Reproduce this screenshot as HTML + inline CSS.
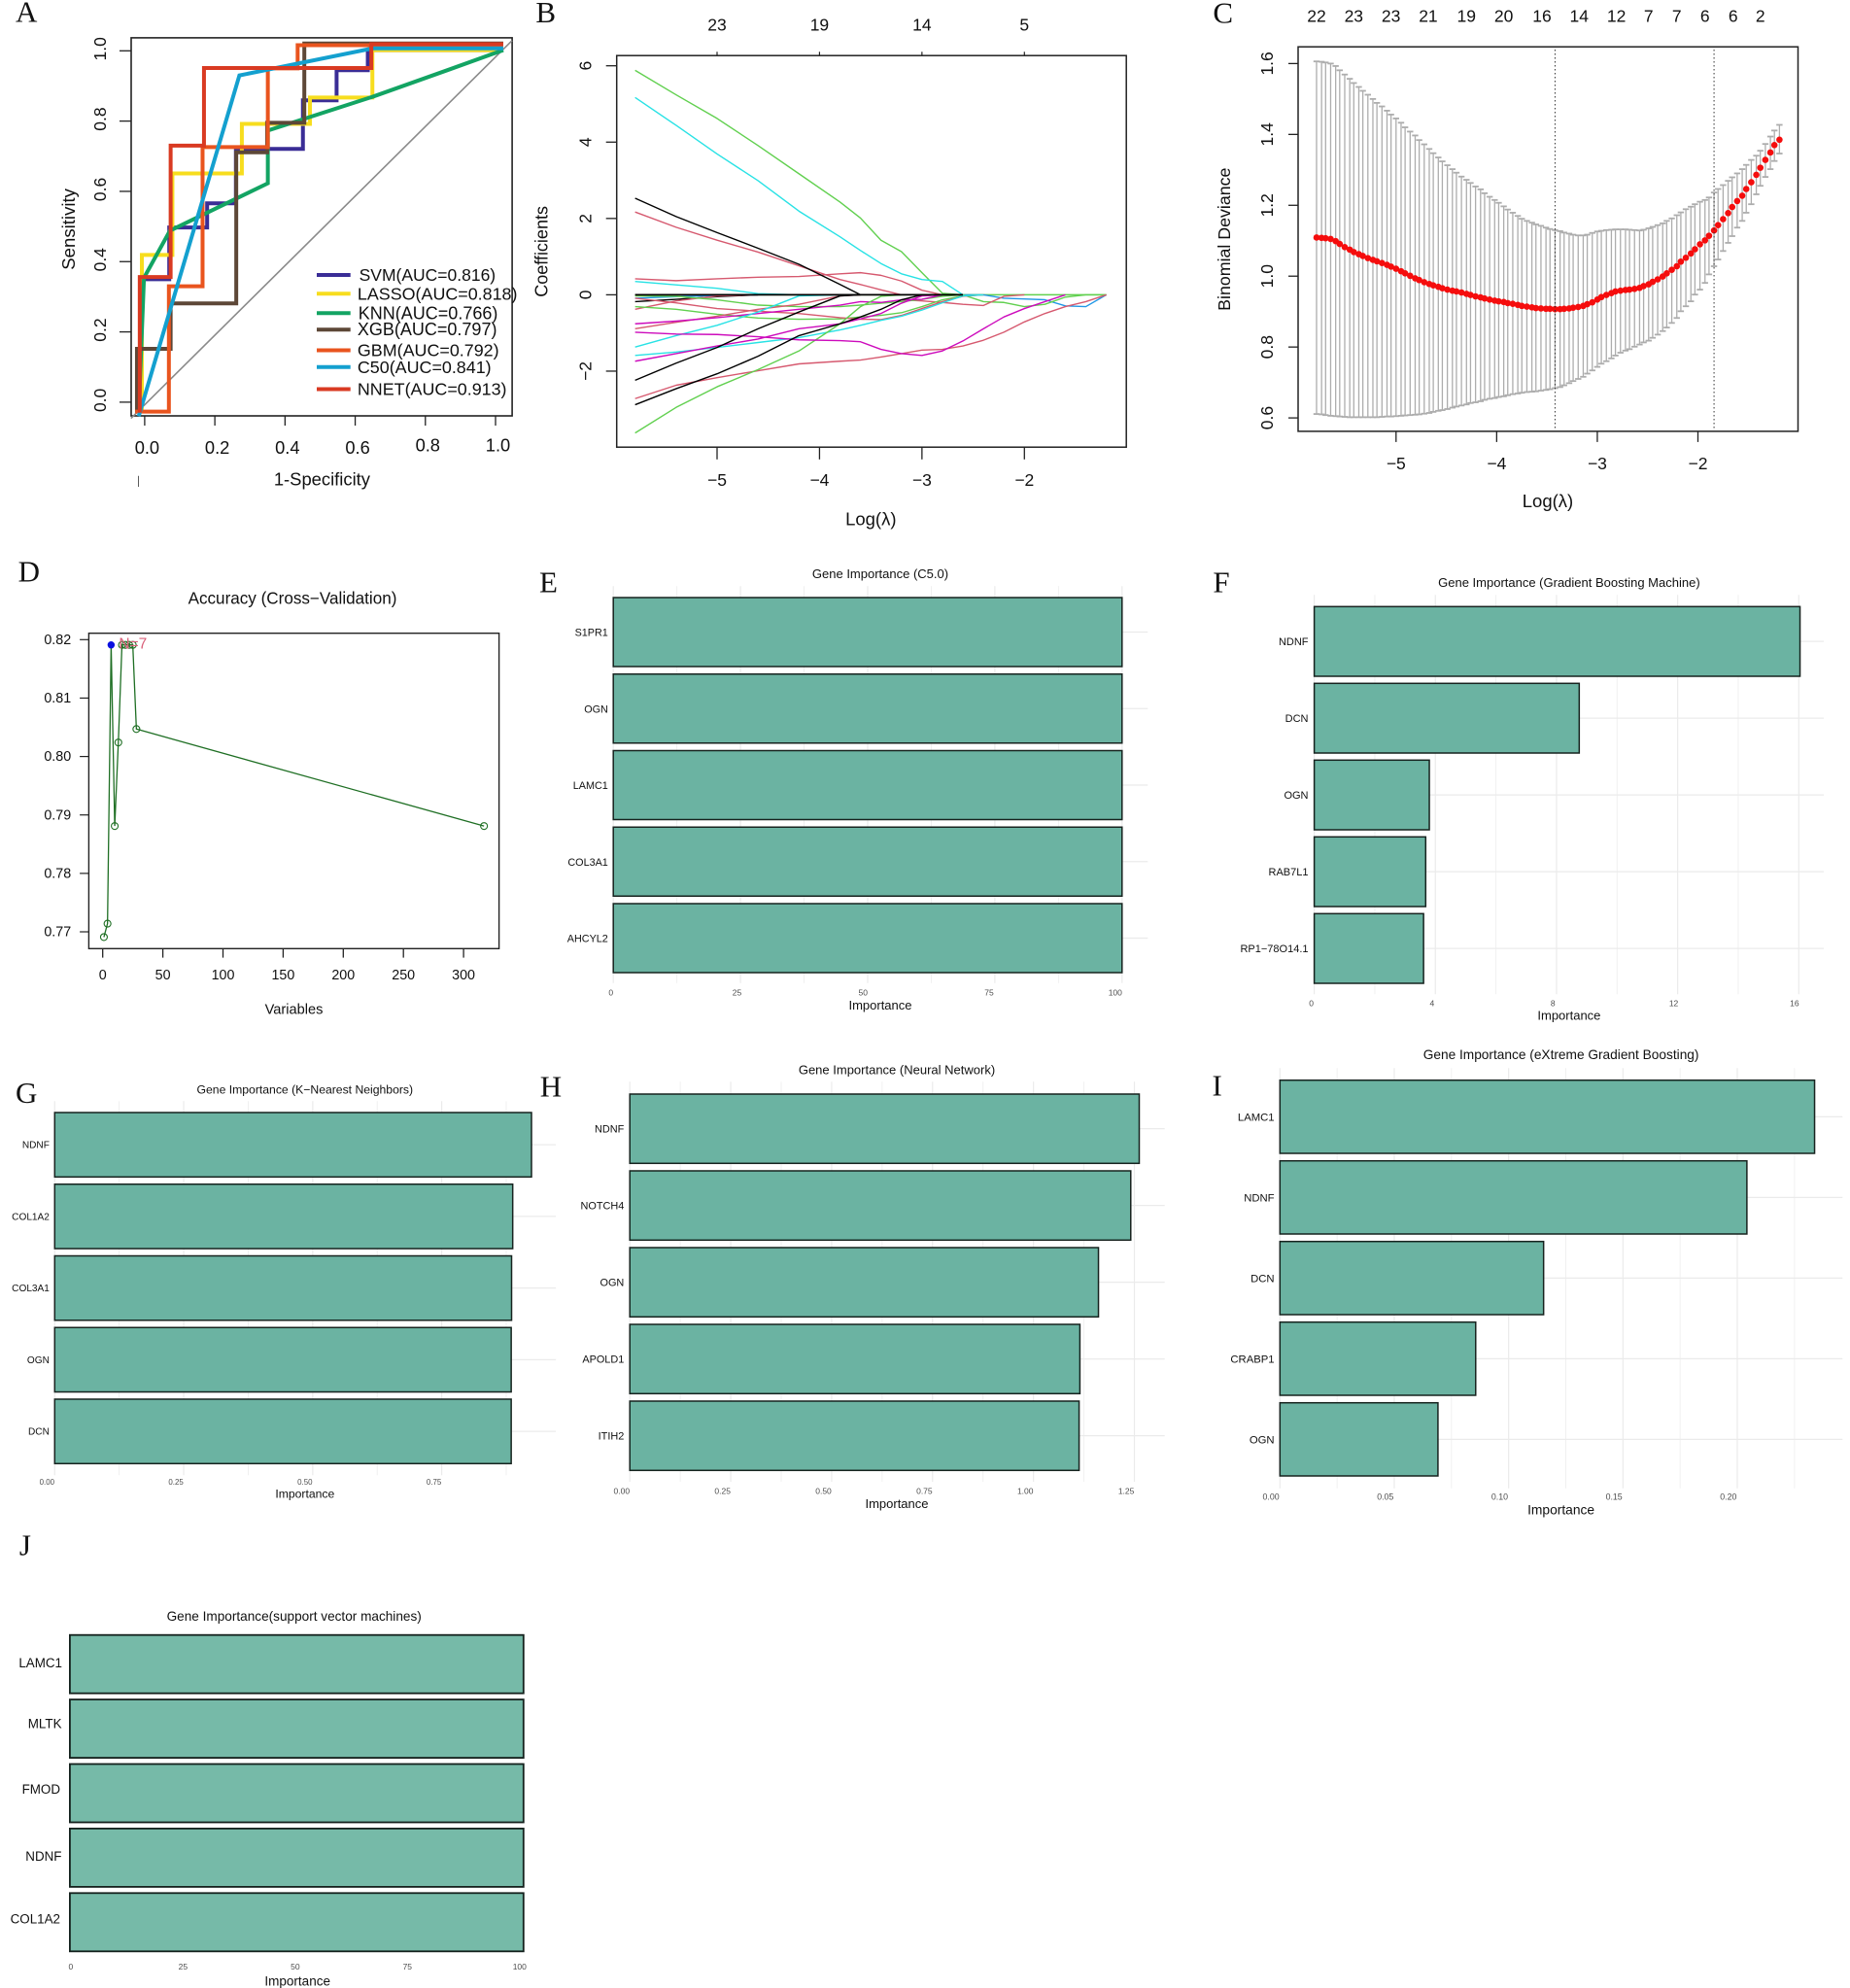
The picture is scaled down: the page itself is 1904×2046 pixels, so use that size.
<!DOCTYPE html>
<html lang="en">
<head>
<meta charset="utf-8">
<title>Gene importance multi-panel figure</title>
<style>
html,body{margin:0;padding:0;background:#fff;}
svg{display:block;font-family:"Liberation Sans",sans-serif;}
.letter{font-family:"Liberation Serif",serif;font-size:31px;fill:#111;}
.c{text-anchor:middle;dominant-baseline:central;fill:#111;}
</style>
</head>
<body>
<svg id="figure" xmlns="http://www.w3.org/2000/svg" width="1904" height="2046" viewBox="0 0 1904 2046">
<rect x="0" y="0" width="1904" height="2046" fill="#fff"/>

<text class="letter" x="16" y="22.4">A</text>
<text class="letter" x="551.4" y="22.8">B</text>
<text class="letter" x="1248.4" y="23.4">C</text>
<text class="letter" x="18.6" y="598.3">D</text>
<text class="letter" x="555" y="609.3">E</text>
<text class="letter" x="1248.4" y="609.3">F</text>
<text class="letter" x="16" y="1135">G</text>
<text class="letter" x="555.7" y="1128.5">H</text>
<text class="letter" x="1247.5" y="1127.7">I</text>
<text class="letter" x="19.9" y="1600.7">J</text>

<g id="panel-a">
  <rect x="135" y="38.9" width="392.1" height="389.1" fill="none" stroke="#222" stroke-width="1.6"/>
  <text class="c" font-size="18.6" transform="translate(70.7 235.9) rotate(-90)">Sensitivity</text>
  <text class="c" font-size="18.4" x="331.4" y="493.1">1-Specificity</text>
  <line x1="142.5" x2="142.5" y1="489.7" y2="501" stroke="#333" stroke-width="0.8"/>
</g>

<g id="panel-b">
  <rect x="634.7" y="57.2" width="524.5" height="403" fill="none" stroke="#222" stroke-width="1.5"/>
  <text class="c" font-size="18" transform="translate(557.6 258.9) rotate(-90)">Coefficients</text>
  <text class="c" font-size="18.5" x="896.3" y="534.2">Log(λ)</text>
</g>

<g id="panel-c">
  <rect x="1336" y="48.2" width="514.5" height="395.7" fill="none" stroke="#222" stroke-width="1.5"/>
  <text class="c" font-size="17.8" transform="translate(1260.1 246.2) rotate(-90)">Binomial Deviance</text>
  <text class="c" font-size="18.5" x="1593" y="515.5">Log(λ)</text>
</g>

<g id="panel-d">
  <rect x="91.4" y="651.7" width="422.2" height="324.6" fill="none" stroke="#222" stroke-width="1.4"/>
  <text class="c" font-size="17.1" x="301" y="616">Accuracy (Cross−Validation)</text>
  <text class="c" font-size="14.6" x="302.5" y="1039.5">Variables</text>
</g>

<g id="panel-e">
  <text class="c" font-size="13" x="906" y="590.7">Gene Importance (C5.0)</text>
  <text class="c" font-size="13" x="906" y="1034.3">Importance</text>
</g>
<g id="panel-f">
  <text class="c" font-size="13" x="1614.9" y="599.3">Gene Importance (Gradient Boosting Machine)</text>
  <text class="c" font-size="13" x="1614.9" y="1045">Importance</text>
</g>
<g id="panel-g">
  <text class="c" font-size="12.2" x="313.8" y="1121.7">Gene Importance (K−Nearest Neighbors)</text>
  <text class="c" font-size="12.2" x="313.8" y="1537.7">Importance</text>
</g>
<g id="panel-h">
  <text class="c" font-size="13" x="923" y="1101">Gene Importance (Neural Network)</text>
  <text class="c" font-size="13" x="923" y="1547.7">Importance</text>
</g>
<g id="panel-i">
  <text class="c" font-size="13.7" x="1606.6" y="1085.7">Gene Importance (eXtreme Gradient Boosting)</text>
  <text class="c" font-size="13.8" x="1606.6" y="1554">Importance</text>
</g>
<g id="panel-j">
  <text class="c" font-size="13.6" x="302.7" y="1663.3">Gene Importance(support vector machines)</text>
  <text class="c" font-size="13.5" x="306.2" y="2039">Importance</text>
</g>
</svg>

<script>
/* ---------- Panel A: ROC data ---------- */
const rocTicks = [0, 0.2, 0.4, 0.6, 0.8, 1];
const rocTickLabels = ['0.0', '0.2', '0.4', '0.6', '0.8', '1.0'];
const rocDiagonalFpr = [-0.039, 1.047];
const rocDiagonalTpr = [-0.046, 1.029];
const svmFpr = [-0.012,-0.012,0.07,0.07,0.178,0.178,0.26,0.26,0.451,0.451,0.547,0.547,0.636,0.636,1.022];
const svmTpr = [-0.022,0.35,0.35,0.497,0.497,0.566,0.566,0.721,0.721,0.859,0.859,0.945,0.945,1.002,1.002];
const lassoFpr = [-0.008,-0.008,0.079,0.079,0.277,0.277,0.471,0.471,0.649,0.649,1.022];
const lassoTpr = [-0.03,0.419,0.419,0.651,0.651,0.792,0.792,0.867,0.867,1.002,1.002];
const knnFpr = [-0.017,-0.002,0.072,0.351,0.351,0.649,0.863,1.022];
const knnTpr = [-0.03,0.354,0.488,0.623,0.773,0.869,0.945,1.002];
const xgbFpr = [-0.022,-0.022,0.074,0.074,0.261,0.261,0.349,0.349,0.455,0.455,1.022];
const xgbTpr = [-0.03,0.152,0.152,0.281,0.281,0.711,0.711,0.795,0.795,1.021,1.021];
const gbmFpr = [-0.027,0.069,0.069,0.165,0.165,0.351,0.351,0.436,0.436,1.022];
const gbmTpr = [-0.027,-0.027,0.33,0.33,0.726,0.726,0.95,0.95,1.016,1.016];
const c50Fpr = [-0.017,0.27,0.649,1.022];
const c50Tpr = [-0.04,0.93,1.007,1.007];
const nnetFpr = [-0.014,-0.014,0.074,0.074,0.169,0.169,0.646,0.646,1.022];
const nnetTpr = [-0.03,0.356,0.356,0.73,0.73,0.951,0.951,1.019,1.019];
const rocModels = ['SVM', 'LASSO', 'KNN', 'XGB', 'GBM', 'C50', 'NNET'];
const rocAucs = ['0.816', '0.818', '0.766', '0.797', '0.792', '0.841', '0.913'];

/* ---------- Panel B: LASSO coefficient paths ---------- */
const lassoXTicks = [-5, -4, -3, -2];
const lassoXTickLabels = ['−5', '−4', '−3', '−2'];
const lassoTopLabels = ['23', '19', '14', '5'];
const lassoYTicks = [6, 4, 2, 0, -2];
const lassoYTickLabels = ['6', '4', '2', '0', '−2'];
const lassoGrid = [-5.8,-5.4,-5,-4.6,-4.2,-3.8,-3.6,-3.4,-3.2,-3,-2.8,-2.6,-2.4,-2.2,-2,-1.8,-1.6,-1.4,-1.2];
const lassoMidGrid = [-3.2,-3,-2.8,-2.6,-2.4,-2.2,-2];
const lassoTailGrid = [-2.6,-2.4,-2.2,-2,-1.8,-1.6,-1.4,-1.2];
const coefGreenTop = [5.88,5.24,4.62,3.91,3.17,2.43,2.01,1.43,1.13,0.58,0.04,0];
const coefCyanTop = [5.17,4.44,3.69,2.99,2.19,1.52,1.16,0.82,0.55,0.4,0.35,0];
const coefBlackTop = [2.53,2.05,1.63,1.22,0.8,0.27,0];
const coefRedTop = [2.17,1.77,1.43,1.12,0.76,0.4,0.27,0.13,0];
const coefRedSmall = [0.42,0.37,0.42,0.46,0.48,0.55,0.58,0.51,0.36,0.12,0];
const coefCyanSmall = [0.35,0.26,0.17,0.03,0];
const coefBlackNearZero = [-0.18,-0.12,-0.05,0];
const coefBlueNearZero = [-0.09,-0.05,-0.02,0];
const coefRedNearZero = [-0.38,-0.16,-0.03,0];
const coefGreenMid = [-0.31,-0.38,-0.51,-0.61,-0.64,-0.63,-0.58,-0.54,-0.47,-0.31,-0.13,-0.03,0];
const coefGreenLow = [-0.03,-0.04,-0.13,-0.27,-0.31,-0.31,-0.27,-0.22,-0.18,-0.12,-0.04,0];
const coefRedMid = [-0.09,-0.21,-0.36,-0.43,-0.49,-0.6,-0.64,-0.65,-0.54,-0.36,-0.18,-0.04,0];
const coefRedLow = [-0.89,-0.72,-0.56,-0.38,-0.25,-0.03,0];
const coefMagentaUpper = [-0.76,-0.69,-0.6,-0.49,-0.38,-0.27,-0.18,-0.2,-0.13,-0.12,0];
const coefMagentaLong = [-0.98,-1.03,-1.04,-1.1,-1.18,-1.2,-1.23,-1.43,-1.54,-1.59,-1.47,-1.21,-0.89,-0.58,-0.36,-0.18,0];
const coefCyanMid = [-1.37,-1.07,-0.8,-0.45,-0.03,0];
const coefCyanLong = [-1.59,-1.5,-1.38,-1.25,-1.12,-0.92,-0.8,-0.67,-0.56,-0.4,-0.21,-0.03,0];
const coefMagentaLow = [-1.74,-1.54,-1.34,-1.16,-0.89,-0.76,-0.63,-0.49,-0.22,-0.03,0];
const coefBlackMid = [-2.24,-1.79,-1.38,-0.89,-0.45,-0.03,0];
const coefBlackLong = [-2.88,-2.46,-2.07,-1.61,-1.07,-0.76,-0.58,-0.38,-0.13,0];
const coefRedLong = [-2.72,-2.37,-2.17,-1.99,-1.81,-1.74,-1.71,-1.63,-1.54,-1.45,-1.43,-1.34,-1.19,-0.98,-0.71,-0.49,-0.31,-0.18,0];
const coefGreenBottom = [-3.62,-2.95,-2.41,-1.96,-1.47,-0.76,-0.31,-0.04,0];
const coefRedTailMid = [-0.13,-0.16,-0.2,-0.25,-0.28,-0.04,0];
const coefBlueTail = [0,0,-0.09,-0.11,-0.13,-0.29,-0.31,0];
const coefGreenTail = [0,-0.18,-0.2,-0.31,-0.25,-0.06,0,0];
const coefGreenZero = [0,0,0,0,0,0,0,0,0,0,0,0,0,0,0,0,0,0,0];
const coefBlackZero = [0,0,0,0,0,0,0,0,0,0,0,0];

/* ---------- Panel C: CV deviance ---------- */
const cvXTicks = [-5, -4, -3, -2];
const cvXTickLabels = ['−5', '−4', '−3', '−2'];
const cvYTicks = [0.6, 0.8, 1, 1.2, 1.4, 1.6];
const cvYTickLabels = ['0.6', '0.8', '1.0', '1.2', '1.4', '1.6'];
const cvTopPositions = [-5.79,-5.42,-5.05,-4.68,-4.3,-3.93,-3.55,-3.18,-2.81,-2.49,-2.21,-1.93,-1.65,-1.38];
const cvTopLabels = ['22','23','23','21','19','20','16','14','12','7','7','6','6','2'];
const cvLambdaLines = [-3.42, -1.84];
const cvLogLambda = [-5.79,-5.74,-5.70,-5.65,-5.60,-5.56,-5.51,-5.46,-5.42,-5.37,-5.33,-5.28,-5.23,-5.19,-5.14,-5.09,-5.05,-5.00,-4.95,-4.91,-4.86,-4.81,-4.77,-4.72,-4.67,-4.63,-4.58,-4.54,-4.49,-4.44,-4.40,-4.35,-4.30,-4.26,-4.21,-4.16,-4.12,-4.07,-4.02,-3.98,-3.93,-3.89,-3.84,-3.79,-3.75,-3.70,-3.65,-3.61,-3.56,-3.51,-3.47,-3.42,-3.37,-3.33,-3.28,-3.24,-3.19,-3.14,-3.10,-3.05,-3.00,-2.96,-2.91,-2.86,-2.82,-2.77,-2.72,-2.68,-2.63,-2.58,-2.54,-2.49,-2.45,-2.40,-2.35,-2.31,-2.26,-2.21,-2.17,-2.12,-2.07,-2.03,-1.98,-1.93,-1.89,-1.84,-1.80,-1.75,-1.70,-1.66,-1.61,-1.56,-1.52,-1.47,-1.42,-1.38,-1.33,-1.28,-1.24,-1.19];
const cvMean = [1.109,1.108,1.107,1.105,1.099,1.091,1.082,1.075,1.068,1.062,1.057,1.051,1.046,1.042,1.037,1.032,1.027,1.021,1.014,1.008,1.001,0.994,0.989,0.983,0.978,0.974,0.970,0.966,0.962,0.959,0.957,0.954,0.950,0.947,0.943,0.940,0.937,0.934,0.931,0.929,0.927,0.924,0.922,0.919,0.916,0.914,0.912,0.910,0.909,0.908,0.908,0.907,0.907,0.908,0.909,0.911,0.913,0.916,0.921,0.926,0.934,0.941,0.947,0.952,0.957,0.959,0.961,0.962,0.964,0.967,0.972,0.977,0.984,0.991,0.999,1.008,1.018,1.028,1.041,1.052,1.064,1.076,1.090,1.101,1.114,1.129,1.144,1.161,1.178,1.195,1.212,1.227,1.246,1.265,1.286,1.306,1.328,1.349,1.370,1.385];
const cvUpper = [1.606,1.605,1.603,1.600,1.593,1.581,1.569,1.557,1.545,1.534,1.523,1.512,1.500,1.489,1.479,1.467,1.456,1.445,1.433,1.420,1.408,1.397,1.384,1.372,1.359,1.347,1.335,1.324,1.313,1.302,1.292,1.281,1.272,1.263,1.253,1.245,1.234,1.224,1.215,1.207,1.197,1.188,1.179,1.170,1.162,1.156,1.151,1.146,1.142,1.137,1.133,1.130,1.127,1.123,1.120,1.117,1.115,1.115,1.117,1.122,1.126,1.128,1.130,1.131,1.132,1.132,1.132,1.131,1.130,1.129,1.131,1.135,1.139,1.144,1.149,1.156,1.163,1.172,1.180,1.189,1.196,1.203,1.210,1.215,1.222,1.236,1.246,1.257,1.269,1.279,1.290,1.302,1.314,1.328,1.340,1.354,1.373,1.394,1.411,1.427];
const cvLower = [0.611,0.610,0.608,0.606,0.605,0.604,0.603,0.602,0.602,0.602,0.602,0.602,0.602,0.602,0.603,0.604,0.604,0.605,0.606,0.607,0.608,0.609,0.610,0.612,0.614,0.617,0.620,0.622,0.625,0.629,0.632,0.635,0.638,0.642,0.644,0.647,0.651,0.654,0.656,0.659,0.661,0.664,0.667,0.669,0.671,0.673,0.674,0.675,0.677,0.679,0.681,0.684,0.687,0.692,0.698,0.704,0.710,0.716,0.725,0.734,0.744,0.753,0.760,0.768,0.776,0.784,0.790,0.794,0.801,0.807,0.813,0.818,0.826,0.835,0.845,0.855,0.868,0.882,0.901,0.915,0.929,0.948,0.962,0.981,1.005,1.028,1.047,1.071,1.094,1.113,1.137,1.156,1.179,1.203,1.231,1.255,1.280,1.302,1.325,1.346];

/* ---------- Panel D: RFE accuracy ---------- */
const rfeXTicks = [0, 50, 100, 150, 200, 250, 300];
const rfeXTickLabels = ['0', '50', '100', '150', '200', '250', '300'];
const rfeYTicks = [0.82, 0.81, 0.8, 0.79, 0.78, 0.77];
const rfeYTickLabels = ['0.82', '0.81', '0.80', '0.79', '0.78', '0.77'];
const rfeVariables = [1, 4, 7, 10, 13, 16, 19, 22, 25, 28, 317];
const rfeAccuracy = [0.7691, 0.7714, 0.8191, 0.7881, 0.8024, 0.8191, 0.8191, 0.8191, 0.8191, 0.8047, 0.7881];
const rfeBestVariables = [7];

/* ---------- Panels E-J: gene importance ---------- */
const c50Genes = ['S1PR1', 'OGN', 'LAMC1', 'COL3A1', 'AHCYL2'];
const c50Values = [100, 100, 100, 100, 100];
const c50Major = [0, 25, 50, 75, 100];
const c50Minor = [12.5, 37.5, 62.5, 87.5];
const c50TickLabels = ['0', '25', '50', '75', '100'];

const gbmGenes = ['NDNF', 'DCN', 'OGN', 'RAB7L1', 'RP1−78O14.1'];
const gbmValues = [16.04, 8.75, 3.8, 3.68, 3.61];
const gbmMajor = [0, 4, 8, 12, 16];
const gbmMinor = [2, 6, 10, 14];
const gbmTickLabels = ['0', '4', '8', '12', '16'];

const knnGenes = ['NDNF', 'COL1A2', 'COL3A1', 'OGN', 'DCN'];
const knnValues = [0.924, 0.8876, 0.8854, 0.8847, 0.8847];
const knnMajor = [0, 0.25, 0.5, 0.75];
const knnMinor = [0.125, 0.375, 0.625, 0.875];
const knnTickLabels = ['0.00', '0.25', '0.50', '0.75'];

const nnetGenes = ['NDNF', 'NOTCH4', 'OGN', 'APOLD1', 'ITIH2'];
const nnetValues = [1.262, 1.241, 1.161, 1.115, 1.113];
const nnetMajor = [0, 0.25, 0.5, 0.75, 1, 1.25];
const nnetMinor = [0.125, 0.375, 0.625, 0.875, 1.125];
const nnetTickLabels = ['0.00', '0.25', '0.50', '0.75', '1.00', '1.25'];

const xgbGenes = ['LAMC1', 'NDNF', 'DCN', 'CRABP1', 'OGN'];
const xgbValues = [0.2338, 0.2042, 0.1153, 0.0856, 0.0691];
const xgbMajor = [0, 0.05, 0.1, 0.15, 0.2];
const xgbMinor = [0.025, 0.075, 0.125, 0.175, 0.225];
const xgbTickLabels = ['0.00', '0.05', '0.10', '0.15', '0.20'];

const svmGenes = ['LAMC1', 'MLTK', 'FMOD', 'NDNF', 'COL1A2'];
const svmValues = [100, 100, 100, 100, 100];
const svmMajor = [0, 25, 50, 75, 100];
const svmMinor = [];
const svmTickLabels = ['0', '25', '50', '75', '100'];

/* ---------- Helpers ---------- */
const NS = 'http://www.w3.org/2000/svg';
function mk(parent, tag, attrs, name, text) {
  const el = document.createElementNS(NS, tag);
  for (const k in attrs) el.setAttribute(k, attrs[k]);
  
  
  if (text !== undefined) el.textContent = text;
  parent.appendChild(el);
  return el;
}
function linear(d0, d1, r0, r1) {
  return function (v) { return r0 + (v - d0) * (r1 - r0) / (d1 - d0); };
}
function pathPoints(xs, ys, sx, sy) {
  const pts = [];
  for (let i = 0; i < ys.length; i++) pts.push(sx(xs[i]).toFixed(2) + ',' + sy(ys[i]).toFixed(2));
  return pts.join(' ');
}
function bottomAxis(g, prefix, ticks, labels, sx, yBase, len, labelY, fs, dx, labelDy) {
  ticks.forEach(function (t, i) {
    if (len > 0) mk(g, 'line', {x1: sx(t), x2: sx(t), y1: yBase, y2: yBase + len, stroke: '#222', 'stroke-width': 1.3}, prefix + '-tick-' + labels[i]);
    mk(g, 'text', {class: 'c', x: sx(t) + dx, y: labelY + (labelDy ? labelDy[i] : 0), 'font-size': fs}, prefix + '-tick-label-' + labels[i], labels[i]);
  });
}
function leftAxisRotated(g, prefix, ticks, labels, sy, xBase, len, labelX, fs, dy) {
  ticks.forEach(function (t, i) {
    mk(g, 'line', {x1: xBase - len, x2: xBase, y1: sy(t), y2: sy(t), stroke: '#222', 'stroke-width': 1.3}, prefix + '-tick-' + labels[i]);
    mk(g, 'text', {class: 'c', 'font-size': fs, transform: 'translate(' + labelX + ' ' + (sy(t) + dy) + ') rotate(-90)'}, prefix + '-tick-label-' + labels[i], labels[i]);
  });
}

/* ---------- Panel A ---------- */
(function () {
  const g = document.getElementById('panel-a');
  const sx = linear(0, 1, 148.9, 510);
  const sy = linear(0, 1, 413.9, 52.3);
  bottomAxis(g, 'roc-x', rocTicks, rocTickLabels, sx, 428, 10, 459.7, 18.3, 2.5, [0.8, 0.8, 0.8, 0.8, -1.6, -1.6]);
  leftAxisRotated(g, 'roc-y', rocTicks, rocTickLabels, sy, 135, 12, 102.9, 17.5, -2);
  mk(g, 'polyline', {points: pathPoints(rocDiagonalFpr, rocDiagonalTpr, sx, sy), fill: 'none', stroke: '#8a8a8a', 'stroke-width': 1.6}, 'roc-diagonal');
  const colors = ['#3a2d96', '#f7dd1e', '#13a463', '#5d4737', '#e9541e', '#14a0cf', '#d93a22'];
  const fprs = [svmFpr, lassoFpr, knnFpr, xgbFpr, gbmFpr, c50Fpr, nnetFpr];
  const tprs = [svmTpr, lassoTpr, knnTpr, xgbTpr, gbmTpr, c50Tpr, nnetTpr];
  rocModels.forEach(function (m, i) {
    mk(g, 'polyline', {points: pathPoints(fprs[i], tprs[i], sx, sy), fill: 'none', stroke: colors[i], 'stroke-width': 4, 'stroke-linejoin': 'miter'}, 'roc-curve-' + m.toLowerCase());
  });
  const legendY = [283, 302.3, 322.3, 339.2, 360.5, 377.8, 400.5];
  const legendTextX = [369.6, 367.9, 368.8, 367.9, 367.9, 367.9, 367.9];
  const legendFs = [17.5, 17.9, 18, 18, 17.9, 17.9, 17.9];
  rocModels.forEach(function (m, i) {
    mk(g, 'line', {x1: 326, x2: 360.7, y1: legendY[i], y2: legendY[i], stroke: colors[i], 'stroke-width': 4}, 'legend-line-' + m.toLowerCase());
    mk(g, 'text', {x: legendTextX[i], y: legendY[i], 'font-size': legendFs[i], 'dominant-baseline': 'central', fill: '#111'}, 'legend-entry-' + m.toLowerCase(), m + '(AUC=' + rocAucs[i] + ')');
  });
})();

/* ---------- Panel B ---------- */
(function () {
  const g = document.getElementById('panel-b');
  const sx = linear(-5, -2, 738, 1054.3);
  const sy = linear(0, 6, 303.4, 67.7);
  bottomAxis(g, 'lasso-x', lassoXTicks, lassoXTickLabels, sx, 460.2, 12.6, 493.9, 17.5, 0);
  leftAxisRotated(g, 'lasso-y', lassoYTicks, lassoYTickLabels, sy, 634.7, 11, 602.4, 17.5, 0);
  lassoXTicks.forEach(function (t, i) {
    mk(g, 'line', {x1: sx(t), x2: sx(t), y1: 57.2, y2: 53.3, stroke: '#222', 'stroke-width': 1.2}, 'lasso-top-tick-' + lassoTopLabels[i]);
    mk(g, 'text', {class: 'c', x: sx(t), y: 25.3, 'font-size': 17.5}, 'lasso-top-label-' + lassoTopLabels[i], lassoTopLabels[i]);
  });
  const black = '#000', red = '#d6596f', green = '#61D04F', cyan = '#28E2E5', magenta = '#CD0BBC', blue = '#2297E6';
  function coefLine(name, color, values, grid, w) {
    mk(g, 'polyline', {points: pathPoints(grid, values, sx, sy), fill: 'none', stroke: color, 'stroke-width': w || 1.4, 'stroke-linejoin': 'round'}, name);
  }
  coefLine('coef-path-green-zero', green, coefGreenZero, lassoGrid, 1.5);
  coefLine('coef-path-blue-tail', blue, coefBlueTail, lassoTailGrid);
  coefLine('coef-path-green-tail', green, coefGreenTail, lassoTailGrid);
  coefLine('coef-path-red-tail', red, coefRedTailMid, lassoMidGrid);
  coefLine('coef-path-green-top', green, coefGreenTop, lassoGrid);
  coefLine('coef-path-cyan-top', cyan, coefCyanTop, lassoGrid);
  coefLine('coef-path-red-top', red, coefRedTop, lassoGrid);
  coefLine('coef-path-red-small', red, coefRedSmall, lassoGrid);
  coefLine('coef-path-cyan-small', cyan, coefCyanSmall, lassoGrid);
  coefLine('coef-path-black-near-zero', black, coefBlackNearZero, lassoGrid);
  coefLine('coef-path-blue-near-zero', blue, coefBlueNearZero, lassoGrid);
  coefLine('coef-path-red-near-zero', red, coefRedNearZero, lassoGrid);
  coefLine('coef-path-green-mid', green, coefGreenMid, lassoGrid);
  coefLine('coef-path-green-low', green, coefGreenLow, lassoGrid);
  coefLine('coef-path-red-mid', red, coefRedMid, lassoGrid);
  coefLine('coef-path-red-low', red, coefRedLow, lassoGrid);
  coefLine('coef-path-magenta-upper', magenta, coefMagentaUpper, lassoGrid);
  coefLine('coef-path-cyan-mid', cyan, coefCyanMid, lassoGrid);
  coefLine('coef-path-cyan-long', cyan, coefCyanLong, lassoGrid);
  coefLine('coef-path-magenta-low', magenta, coefMagentaLow, lassoGrid);
  coefLine('coef-path-red-long', red, coefRedLong, lassoGrid);
  coefLine('coef-path-green-bottom', green, coefGreenBottom, lassoGrid);
  coefLine('coef-path-magenta-long', magenta, coefMagentaLong, lassoGrid);
  coefLine('coef-path-black-top', black, coefBlackTop, lassoGrid);
  coefLine('coef-path-black-mid', black, coefBlackMid, lassoGrid);
  coefLine('coef-path-black-long', black, coefBlackLong, lassoGrid);
  coefLine('coef-path-black-zero', black, coefBlackZero, lassoGrid, 1.7);
})();

/* ---------- Panel C ---------- */
(function () {
  const g = document.getElementById('panel-c');
  const sx = linear(-5, -2, 1436.8, 1747.5);
  const sy = linear(0.6, 1.6, 430.1, 65.4);
  bottomAxis(g, 'cv-x', cvXTicks, cvXTickLabels, sx, 443.9, 11, 476.9, 17.5, 0);
  leftAxisRotated(g, 'cv-y', cvYTicks, cvYTickLabels, sy, 1336, 10, 1303.8, 17.5, 0);
  cvTopPositions.forEach(function (p, i) {
    mk(g, 'text', {class: 'c', x: sx(p), y: 16.5, 'font-size': 17.5}, 'cv-top-label-' + i, cvTopLabels[i]);
  });
  const gray = '#adadad';
  cvLogLambda.forEach(function (l, i) {
    const x = sx(l);
    mk(g, 'line', {x1: x, x2: x, y1: sy(cvLower[i]), y2: sy(cvUpper[i]), stroke: gray, 'stroke-width': 1.3}, 'cv-error-bar-' + i);
    mk(g, 'line', {x1: x - 3.2, x2: x + 3.2, y1: sy(cvUpper[i]), y2: sy(cvUpper[i]), stroke: gray, 'stroke-width': 1.8}, 'cv-cap-upper-' + i);
    mk(g, 'line', {x1: x - 3.2, x2: x + 3.2, y1: sy(cvLower[i]), y2: sy(cvLower[i]), stroke: gray, 'stroke-width': 1.8}, 'cv-cap-lower-' + i);
  });
  cvLogLambda.forEach(function (l, i) {
    mk(g, 'circle', {cx: sx(l), cy: sy(cvMean[i]), r: 3.3, fill: '#f50d0d'}, 'cv-mean-point-' + i);
  });
  cvLambdaLines.forEach(function (l, i) {
    mk(g, 'line', {x1: sx(l), x2: sx(l), y1: 51, y2: 440.8, stroke: '#333', 'stroke-width': 1, 'stroke-dasharray': '1.5 2.5'}, 'cv-lambda-line-' + i);
  });
})();

/* ---------- Panel D ---------- */
(function () {
  const g = document.getElementById('panel-d');
  const sx = linear(0, 300, 105.7, 477.1);
  const sy = linear(0.77, 0.82, 959, 658.3);
  bottomAxis(g, 'rfe-x', rfeXTicks, rfeXTickLabels, sx, 976.3, 9.3, 1003.8, 14.3, 0);
  rfeYTicks.forEach(function (t, i) {
    mk(g, 'line', {x1: 82.1, x2: 91.4, y1: sy(t), y2: sy(t), stroke: '#222', 'stroke-width': 1.2}, 'rfe-y-tick-' + rfeYTickLabels[i]);
    mk(g, 'text', {x: 73.2, y: sy(t) + 0.6, 'font-size': 14.3, 'text-anchor': 'end', 'dominant-baseline': 'central', fill: '#111'}, 'rfe-y-tick-label-' + rfeYTickLabels[i], rfeYTickLabels[i]);
  });
  const green = '#1f6f24';
  mk(g, 'polyline', {points: pathPoints(rfeVariables, rfeAccuracy, sx, sy), fill: 'none', stroke: green, 'stroke-width': 1.3}, 'rfe-accuracy-line');
  rfeVariables.forEach(function (v, i) {
    if (rfeBestVariables.indexOf(v) >= 0) {
      mk(g, 'circle', {cx: sx(v), cy: sy(rfeAccuracy[i]), r: 3.7, fill: '#0a10e0'}, 'rfe-best-point');
    } else {
      mk(g, 'circle', {cx: sx(v), cy: sy(rfeAccuracy[i]), r: 3.5, fill: 'none', stroke: green, 'stroke-width': 1.1}, 'rfe-point-' + v);
    }
  });
  mk(g, 'text', {x: 122.4, y: sy(rfeAccuracy[2]) - 0.5, 'font-size': 15.5, 'dominant-baseline': 'central', fill: '#d9607a'}, 'rfe-best-label', 'N=7');
})();

/* ---------- Panels E-J ---------- */
function importancePanel(id, prefix, genes, values, major, minor, tickLabels, o) {
  const g = document.getElementById(id);
  const sx = linear(0, major[major.length - 1], o.x0, o.xEnd);
  if (o.grid) {
    minor.forEach(function (t) {
      mk(g, 'line', {x1: sx(t), x2: sx(t), y1: o.gridTop, y2: o.gridBottom, stroke: '#efefef', 'stroke-width': 0.9}, prefix + '-minor-gridline');
    });
    major.forEach(function (t) {
      mk(g, 'line', {x1: sx(t), x2: sx(t), y1: o.gridTop, y2: o.gridBottom, stroke: '#ebebeb', 'stroke-width': 1.2}, prefix + '-major-gridline');
    });
    genes.forEach(function (gene, i) {
      const cy = o.top + i * o.step + o.h / 2;
      mk(g, 'line', {x1: o.x0, x2: o.gridRight, y1: cy, y2: cy, stroke: '#ebebeb', 'stroke-width': 1.2}, prefix + '-row-gridline');
    });
  }
  genes.forEach(function (gene, i) {
    const y = o.top + i * o.step;
    mk(g, 'rect', {x: o.x0, y: y, width: sx(values[i]) - o.x0, height: o.h, fill: o.fill, stroke: o.stroke, 'stroke-width': o.sw}, prefix + '-bar-' + gene);
    mk(g, 'text', {x: o.labelEnd + (o.labelDx ? o.labelDx[i] : 0), y: y + o.h / 2 + (o.labelDy ? o.labelDy[i] : 1), 'font-size': o.labelFs, 'text-anchor': 'end', 'dominant-baseline': 'central', fill: '#111'}, prefix + '-gene-label-' + gene, gene);
  });
  major.forEach(function (t, i) {
    const shift = o.shift[0] + (o.shift[1] - o.shift[0]) * i / (major.length - 1);
    mk(g, 'text', {class: 'c', x: sx(t) + shift, y: o.tickY, 'font-size': o.tickFs, style: 'fill:#4d4d4d'}, prefix + '-tick-label-' + tickLabels[i], tickLabels[i]);
  });
}
const barFill = '#6bb3a2';
const barStroke = '#17231f';
importancePanel('panel-e', 'c50', c50Genes, c50Values, c50Major, c50Minor, c50TickLabels, {
  x0: 631.2, xEnd: 1154.8, top: 615, h: 71, step: 78.75, grid: true, gridTop: 603.3, gridBottom: 1011.7, gridRight: 1181.3,
  labelEnd: 625.8, labelFs: 10.8, tickY: 1021.7, tickFs: 8.5, shift: [-2.5, -7], fill: barFill, stroke: barStroke, sw: 1.5
});
importancePanel('panel-f', 'gbm', gbmGenes, gbmValues, gbmMajor, gbmMinor, gbmTickLabels, {
  x0: 1352.6, xEnd: 1851.3, top: 624.3, h: 71.7, step: 79, grid: true, gridTop: 612.3, gridBottom: 1023.3, gridRight: 1877,
  labelEnd: 1346.5, labelFs: 11, tickY: 1032.3, tickFs: 8.5, shift: [-3, -4.4], fill: barFill, stroke: barStroke, sw: 1.5
});
importancePanel('panel-g', 'knn', knnGenes, knnValues, knnMajor, knnMinor, knnTickLabels, {
  x0: 56.3, xEnd: 454.6, top: 1145, h: 66.3, step: 73.75, grid: true, gridTop: 1133.3, gridBottom: 1518.3, gridRight: 572.1,
  labelEnd: 50.9, labelFs: 10.1, tickY: 1525.7, tickFs: 7.9, shift: [-8, -8], fill: barFill, stroke: barStroke, sw: 1.5
});
importancePanel('panel-h', 'nnet', nnetGenes, nnetValues, nnetMajor, nnetMinor, nnetTickLabels, {
  x0: 648.2, xEnd: 1167.5, top: 1126, h: 71.3, step: 79, grid: true, gridTop: 1113.3, gridBottom: 1525, gridRight: 1198.7,
  labelEnd: 642.3, labelFs: 10.9, tickY: 1534.3, tickFs: 8.5, shift: [-8.4, -8.4], fill: barFill, stroke: barStroke, sw: 1.5
});
importancePanel('panel-i', 'xgb', xgbGenes, xgbValues, xgbMajor, xgbMinor, xgbTickLabels, {
  x0: 1317.3, xEnd: 1788, top: 1111.7, h: 75.3, step: 83, grid: true, gridTop: 1099.3, gridBottom: 1531.7, gridRight: 1896.3,
  labelEnd: 1311.6, labelFs: 11.3, tickY: 1540.3, tickFs: 8.8, shift: [-9.2, -9.2], fill: barFill, stroke: barStroke, sw: 1.5
});
importancePanel('panel-j', 'svm', svmGenes, svmValues, svmMajor, svmMinor, svmTickLabels, {
  x0: 71.9, xEnd: 538.8, top: 1682.7, h: 60, step: 66.4, grid: false,
  labelEnd: 63.5, labelDx: [0.5, 0, -1.5, 0, -1.5], labelFs: 13.4, labelDy: [-1, -5, -4, -1.5, -3.5], tickY: 2024, tickFs: 8.5, shift: [1, -4], fill: '#76baa8', stroke: '#14211d', sw: 1.8
});
</script>
</body>
</html>
